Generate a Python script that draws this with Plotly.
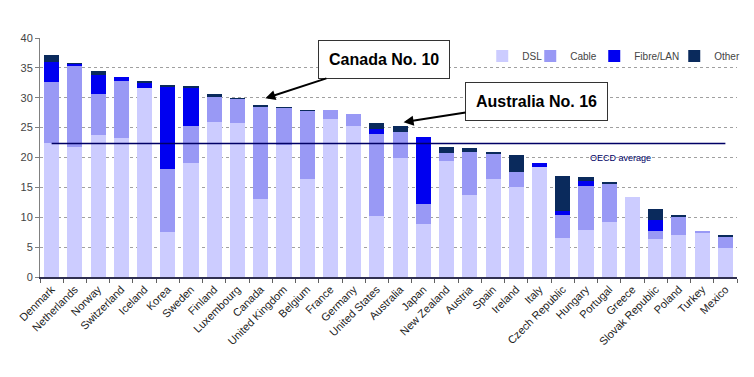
import plotly.graph_objects as go

countries = ["Denmark", "Netherlands", "Norway", "Switzerland", "Iceland", "Korea",
             "Sweden", "Finland", "Luxembourg", "Canada", "United Kingdom", "Belgium",
             "France", "Germany", "United States", "Australia", "Japan", "New Zealand",
             "Austria", "Spain", "Ireland", "Italy", "Czech Republic", "Hungary",
             "Portugal", "Greece", "Slovak Republic", "Poland", "Turkey", "Mexico"]

dsl = [22.5, 21.8, 23.7, 23.2, 31.6, 7.5, 19.1, 26.0, 25.7, 13.0, 22.1, 16.4,
       26.5, 25.3, 10.2, 19.9, 8.9, 19.4, 13.8, 16.4, 15.1, 18.4, 6.5, 7.8,
       9.2, 13.4, 6.3, 7.0, 7.45, 4.9]
cable = [10.1, 13.5, 7.0, 9.65, 0.0, 10.6, 6.2, 4.2, 4.2, 15.6, 6.3, 11.4,
         1.4, 2.0, 13.7, 4.3, 3.3, 1.4, 7.2, 4.3, 2.4, 0.0, 3.8, 7.5,
         6.3, 0.0, 1.35, 3.1, 0.2, 1.9]
fibre = [3.4, 0.45, 3.1, 0.55, 0.8, 13.8, 6.4, 0.0, 0.0, 0.0, 0.0, 0.0,
         0.0, 0.0, 0.95, 0.0, 11.3, 0.0, 0.0, 0.0, 0.0, 0.6, 0.7, 0.8,
         0.0, 0.0, 1.95, 0.0, 0.0, 0.0]
other = [1.2, 0.05, 0.7, 0.0, 0.45, 0.1, 0.3, 0.4, 0.05, 0.2, 0.05, 0.1,
         0.0, 0.0, 0.85, 1.05, 0.0, 1.0, 0.6, 0.1, 2.9, 0.0, 5.9, 0.6,
         0.4, 0.0, 1.85, 0.2, 0.0, 0.1]
oecd_average = 22.35

series = [("DSL", dsl, "#CCCCFF", 3), ("Cable", cable, "#9999F5", 19),
          ("Fibre/LAN", fibre, "#0000F0", 35), ("Other", other, "#0A2A5C", 30)]

font_family = "Liberation Sans, Arial, sans-serif"

fig = go.Figure()
for name, vals, col, lw in series:
    fig.add_trace(go.Bar(x=countries, y=vals, name=name, legendwidth=lw,
                         marker=dict(color=col, line=dict(width=0))))

# OECD average line
fig.add_trace(go.Scatter(x=[countries[0], countries[-1]], y=[oecd_average, oecd_average],
                         mode="lines", line=dict(color="#000066", width=1.5),
                         showlegend=False, hoverinfo="skip"))

# page body has an 8px margin, so the figure is sized/offset to compensate
fig.update_layout(
    width=746, height=369,
    barmode="stack", bargap=0.35,
    margin=dict(l=32, r=17, t=30, b=100, autoexpand=False),
    paper_bgcolor="white", plot_bgcolor="white",
    font=dict(family=font_family, size=11, color="#333333"),
    legend=dict(orientation="h", x=0.6345, y=0.925, xanchor="left", yanchor="middle",
                font=dict(size=10, color="#444444"), itemwidth=30,
                bgcolor="rgba(0,0,0,0)", traceorder="normal"),
    showlegend=True,
)

fig.update_yaxes(range=[0, 40], dtick=5, showgrid=True, gridcolor="#A0A0A0",
                 griddash="dot", gridwidth=1, showline=True, linecolor="#808080",
                 ticks="outside", ticklen=4, tickcolor="#808080", zeroline=False,
                 automargin=False, tickfont=dict(size=11, color="#444444"))
fig.update_xaxes(showline=True, linecolor="#303050", linewidth=1.5, ticks="outside",
                 tickson="boundaries", ticklen=4, tickcolor="#606060",
                 tickangle=-45, tickfont=dict(size=11, color="#222222"),
                 automargin=False, range=[-0.5, len(countries) - 0.5])

fig.add_annotation(x=24.5, y=20.0, text="OECD average", showarrow=False,
                   font=dict(size=9, color="#000066"), xanchor="center", yanchor="middle")

fig.add_annotation(x=9.2, y=29.9, text="<b>Canada No. 10</b>", showarrow=True,
                   ax=119, ay=-39, arrowhead=2, arrowsize=1, arrowwidth=2,
                   arrowcolor="black", font=dict(size=16, color="black"),
                   bgcolor="white", bordercolor="#333333", borderwidth=1, borderpad=10)
fig.add_annotation(x=15.15, y=25.9, text="<b>Australia No. 16</b>", showarrow=True,
                   ax=133, ay=-21, arrowhead=2, arrowsize=1, arrowwidth=2,
                   arrowcolor="black", font=dict(size=16, color="black"),
                   bgcolor="white", bordercolor="#333333", borderwidth=1, borderpad=10)

fig.write_html("out.html")
